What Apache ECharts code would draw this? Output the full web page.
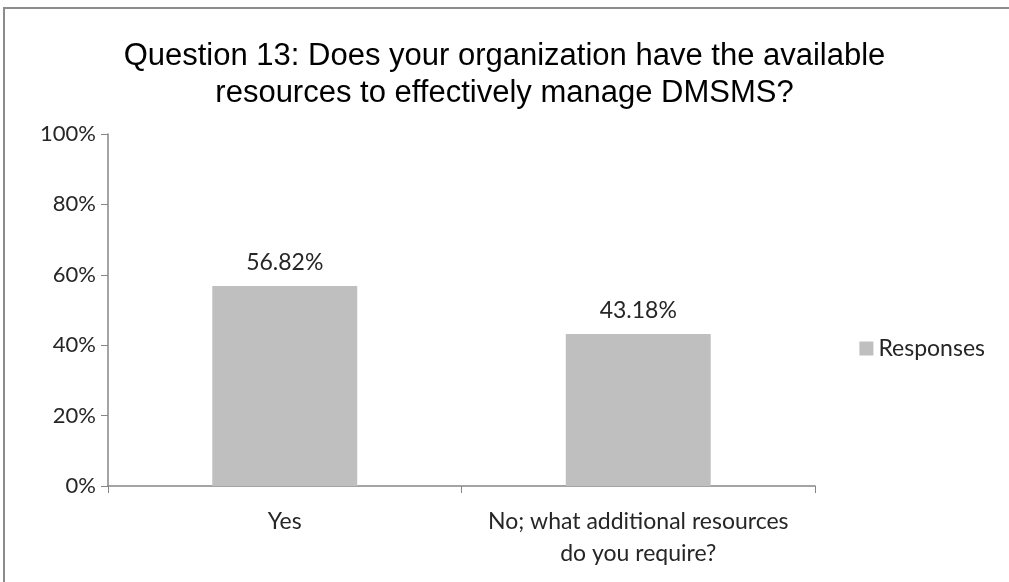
<!DOCTYPE html>
<html>
<head>
<meta charset="utf-8">
<style>
  html, body { margin: 0; padding: 0; background: #fff; }
  #chart { width: 1009px; height: 582px; }
</style>
<script src="https://cdn.jsdelivr.net/npm/echarts@6/dist/echarts.min.js"></script>
</head>
<body>
<div id="chart"></div>
<script>
// Survey answers and their share of responses (percent)
const categories = ['Yes', 'No; what additional resources\ndo you require?'];
const responses = [56.82, 43.18];
const seriesName = 'Responses';
const yTicks = [0, 20, 40, 60, 80, 100];

const labelFont = 'Lato, "Open Sans", sans-serif';

const chart = echarts.init(document.getElementById('chart'), null, { renderer: 'canvas' });

chart.setOption({
  backgroundColor: '#ffffff',
  animation: false,
  title: {
    text: 'Question 13: Does your organization have the available\nresources to effectively manage DMSMS?',
    left: 'center',
    top: 33,
    textStyle: {
      fontFamily: '"Liberation Sans", Arial, sans-serif',
      fontSize: 31,
      fontWeight: 'normal',
      color: '#000000',
      lineHeight: 37
    }
  },
  graphic: [{
    type: 'rect',
    shape: { x: 4, y: 8, width: 1010, height: 580 },
    style: { fill: 'none', stroke: '#8c8c8c', lineWidth: 2 },
    silent: true
  }],
  legend: {
    data: [seriesName],
    right: 19,
    top: 332,
    itemWidth: 14,
    itemHeight: 14,
    icon: 'rect',
    itemGap: 6,
    textStyle: { fontFamily: labelFont, fontSize: 23, color: '#262626' }
  },
  grid: { left: 108, right: 194, top: 134, bottom: 96, containLabel: false },
  xAxis: {
    type: 'category',
    data: categories,
    axisLine: { lineStyle: { color: '#868686', width: 1.5 } },
    axisTick: { show: true, length: 7, alignWithLabel: false, lineStyle: { color: '#868686' } },
    axisLabel: {
      interval: 0,
      margin: 20,
      fontFamily: labelFont,
      fontSize: 23,
      color: '#262626',
      lineHeight: 32
    }
  },
  yAxis: {
    type: 'value',
    min: yTicks[0],
    max: yTicks[yTicks.length - 1],
    interval: yTicks[1] - yTicks[0],
    splitLine: { show: false },
    axisLine: { show: true, lineStyle: { color: '#868686', width: 1.5 } },
    axisTick: { show: true, length: 7, lineStyle: { color: '#868686' } },
    axisLabel: {
      margin: 12,
      fontFamily: labelFont,
      fontSize: 22,
      color: '#262626',
      formatter: v => v + '%'
    }
  },
  series: [{
    name: seriesName,
    type: 'bar',
    data: responses,
    barCategoryGap: '59%',
    itemStyle: { color: '#bfbfbf' },
    label: {
      show: true,
      position: 'top',
      distance: 12,
      fontFamily: labelFont,
      fontSize: 23,
      color: '#262626',
      formatter: p => p.value.toFixed(2) + '%'
    }
  }]
});
</script>
</body>
</html>
